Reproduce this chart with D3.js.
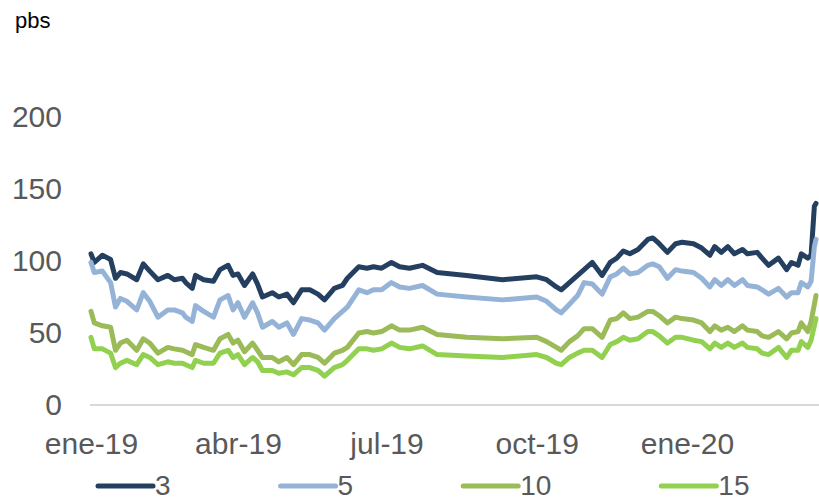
<!DOCTYPE html>
<html>
<head>
<meta charset="utf-8">
<script src="https://cdn.jsdelivr.net/npm/d3@7"></script>
<style>
  body { margin: 0; background: #fff; }
  svg { display: block; font-family: "Liberation Sans", Arial, sans-serif; }
</style>
</head>
<body>
<div id="chart"></div>
<script>
// Spreads por plazo (pbs), ene-19 a mar-20
const dates = [
  "2019-01-01","2019-01-03","2019-01-08","2019-01-13","2019-01-16","2019-01-19","2019-01-23","2019-01-29","2019-02-02","2019-02-06",
  "2019-02-11","2019-02-17","2019-02-21","2019-02-26","2019-02-28","2019-03-04","2019-03-06","2019-03-11","2019-03-17","2019-03-21",
  "2019-03-26","2019-03-29","2019-04-01","2019-04-05","2019-04-10","2019-04-13","2019-04-16","2019-04-22","2019-04-26","2019-05-01",
  "2019-05-05","2019-05-10","2019-05-15","2019-05-20","2019-05-24","2019-05-30","2019-06-04","2019-06-07","2019-06-14","2019-06-19",
  "2019-06-23","2019-06-28","2019-07-04","2019-07-09","2019-07-15","2019-07-23","2019-08-01","2019-08-19","2019-09-10","2019-10-01",
  "2019-10-07","2019-10-13","2019-10-16","2019-10-21","2019-10-26","2019-10-30","2019-11-04","2019-11-10","2019-11-15","2019-11-19",
  "2019-11-23","2019-11-27","2019-12-02","2019-12-08","2019-12-11","2019-12-15","2019-12-20","2019-12-25","2019-12-29","2020-01-05",
  "2020-01-10","2020-01-15","2020-01-18","2020-01-22","2020-01-26","2020-01-30","2020-02-04","2020-02-07","2020-02-13","2020-02-16",
  "2020-02-20","2020-02-26","2020-03-02","2020-03-05","2020-03-09","2020-03-11","2020-03-15","2020-03-17","2020-03-19","2020-03-20"
];

const s3 = [
  105, 99, 104, 101, 88, 92, 91, 87, 98, 93,
  87, 90, 87, 88, 85, 81, 90, 87, 86, 94,
  97, 90, 91, 83, 91, 84, 75, 78, 75, 77,
  71, 80, 80, 77, 73, 81, 83, 88, 96, 95,
  96, 95, 99, 96, 95, 97, 92, 90, 87, 89,
  87, 82, 80, 85, 90, 94, 99, 90, 99, 102,
  107, 105, 108, 115, 116, 112, 106, 112, 113, 112,
  109, 104, 110, 106, 110, 105, 108, 105, 106, 102,
  97, 102, 94, 99, 97, 105, 102, 104, 138, 140
];
const s5 = [
  99, 92, 93, 85, 68, 74, 72, 66, 78, 72,
  61, 66, 66, 64, 61, 58, 69, 65, 61, 73,
  76, 66, 71, 61, 71, 64, 54, 58, 54, 57,
  49, 60, 59, 57, 52, 60, 65, 68, 80, 78,
  80, 80, 85, 82, 81, 83, 77, 75, 73, 75,
  72, 66, 64, 70, 76, 85, 84, 77, 89, 91,
  95, 91, 92, 97, 98, 96, 88, 94, 93, 92,
  88, 82, 87, 83, 87, 83, 87, 83, 82, 80,
  77, 81, 75, 78, 78, 85, 82, 86, 110, 115
];
const s10 = [
  65, 57, 55, 54, 38, 43, 45, 38, 46, 43,
  36, 40, 39, 38, 37, 35, 42, 40, 38, 46,
  49, 43, 45, 37, 43, 38, 33, 33, 30, 33,
  28, 35, 35, 33, 29, 36, 38, 40, 50, 51,
  50, 51, 55, 52, 52, 54, 49, 47, 46, 47,
  44, 40, 38, 44, 48, 53, 53, 47, 59, 60,
  64, 60, 61, 65, 65, 62, 57, 61, 60, 59,
  57, 51, 55, 52, 54, 51, 55, 52, 51, 48,
  47, 51, 46, 50, 51, 57, 51, 58, 70, 76
];
const s15 = [
  47, 39, 39, 36, 26, 29, 31, 28, 35, 33,
  28, 30, 29, 29, 28, 26, 31, 29, 29, 36,
  38, 33, 35, 28, 33, 30, 24, 24, 22, 23,
  21, 26, 26, 24, 20, 26, 28, 31, 39, 39,
  38, 39, 43, 40, 39, 41, 35, 34, 33, 35,
  33, 29, 28, 33, 36, 38, 38, 33, 42, 44,
  47, 45, 46, 51, 51, 48, 43, 47, 47, 45,
  44, 39, 43, 40, 43, 40, 43, 40, 39, 36,
  35, 40, 33, 38, 38, 44, 40, 45, 55, 60
];

const seriesNames = ["3", "5", "10", "15"];
const yTicks = [0, 50, 100, 150, 200];

const colors = ["#243F60", "#95B3D7", "#9BBB59", "#92D050"];
const textGray = "#595959";

const width = 819;
const height = 502;

const parse = d3.timeParse("%Y-%m-%d");
const dateObjs = dates.map(parse);
const series = [s3, s5, s10, s15].map((vals, i) => ({
  name: seriesNames[i],
  color: colors[i],
  points: vals.map((v, j) => ({ date: dateObjs[j], value: v }))
}));

const es = d3.timeFormatLocale({
  dateTime: "%x, %X", date: "%d/%m/%Y", time: "%H:%M:%S", periods: ["AM", "PM"],
  days: ["domingo","lunes","martes","miércoles","jueves","viernes","sábado"],
  shortDays: ["dom","lun","mar","mié","jue","vie","sáb"],
  months: ["enero","febrero","marzo","abril","mayo","junio","julio","agosto","septiembre","octubre","noviembre","diciembre"],
  shortMonths: ["ene","feb","mar","abr","may","jun","jul","ago","sep","oct","nov","dic"]
});

const svg = d3.select("#chart")
  .append("svg")
  .attr("width", width)
  .attr("height", height);

// scales: one year = 596 px, starting at ene-19
const xScale = d3.scaleTime()
  .domain([new Date(2019, 0, 1), new Date(2020, 0, 1)])
  .range([91, 687]);

const yScale = d3.scaleLinear()
  .domain([0, 200])
  .range([405, 117]);

// unit label
svg.append("text")
  .attr("x", 15)
  .attr("y", 28)
  .attr("font-size", 22)
  .attr("fill", "#000")
  .text("pbs");

// y axis (labels only)
const yAxis = svg.append("g")
  .attr("transform", "translate(90,0)")
  .call(d3.axisLeft(yScale).tickValues(yTicks).tickSize(0).tickPadding(28));
yAxis.select(".domain").remove();
yAxis.selectAll("text")
  .attr("font-size", 30)
  .attr("font-family", "Liberation Sans, Arial, sans-serif")
  .attr("fill", textGray);

// x axis labels
const xTicks = d3.timeMonth.range(new Date(2019, 0, 1), new Date(2020, 1, 1), 3);
const xAxis = svg.append("g")
  .attr("transform", "translate(0,405)")
  .call(d3.axisBottom(xScale).tickValues(xTicks).tickFormat(es.format("%b-%y")).tickSize(0).tickPadding(28));
xAxis.select(".domain").remove();
xAxis.selectAll("text")
  .attr("font-size", 30)
  .attr("font-family", "Liberation Sans, Arial, sans-serif")
  .attr("fill", textGray);

// baseline
svg.append("line")
  .attr("x1", 90)
  .attr("x2", width)
  .attr("y1", yScale(0))
  .attr("y2", yScale(0))
  .attr("stroke", "#d9d9d9")
  .attr("stroke-width", 2);

// lines
const line = d3.line()
  .x(d => xScale(d.date))
  .y(d => yScale(d.value));

svg.selectAll(".series")
  .data(series)
  .enter()
  .append("path")
  .attr("class", "series")
  .attr("d", d => line(d.points))
  .attr("fill", "none")
  .attr("stroke", d => d.color)
  .attr("stroke-width", 5)
  .attr("stroke-linejoin", "round")
  .attr("stroke-linecap", "round");

// legend
const legend = svg.append("g");
let lx = 98;
series.forEach(s => {
  const item = legend.append("g").attr("transform", `translate(${lx},0)`);
  item.append("line")
    .attr("x1", 0).attr("x2", 55)
    .attr("y1", 486).attr("y2", 486)
    .attr("stroke", s.color)
    .attr("stroke-width", 5)
    .attr("stroke-linecap", "round");
  const t = item.append("text")
    .attr("x", 57)
    .attr("y", 495)
    .attr("font-size", 28)
    .attr("fill", textGray)
    .text(s.name);
  lx += 57 + t.node().getComputedTextLength() + 110;
});
</script>
</body>
</html>
